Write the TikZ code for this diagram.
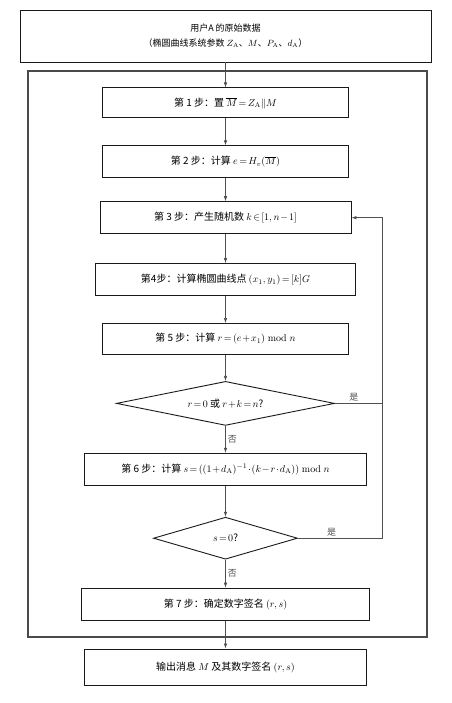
\documentclass[tikz,border=0pt]{standalone}
\usepackage{fontspec}
\usepackage{amsmath}
\usepackage{amssymb}
\newfontfamily\cjk{Noto Sans CJK SC}
\usetikzlibrary{
  arrows.meta,
  shapes.geometric,
  positioning,
  calc
}
\definecolor{sgLine}{HTML}{1A1A1A}
\definecolor{sgFrame}{HTML}{4A4A4A}
\definecolor{sgFlow}{HTML}{505050}
\thickmuskip=2.5mu
\medmuskip=1.5mu
\tikzset{
  sgnode/.style={
    draw=sgLine, line width=0.9pt, font=\cjk\normalsize, align=center, inner sep=2pt
  },
  stepbox/.style={sgnode, rectangle, minimum height=32pt},
  decide/.style={sgnode, diamond, aspect=5, inner sep=0pt},
  frame/.style={draw=sgFrame, line width=1.2pt},
  flow/.style={-{Latex[length=5pt,width=3.5pt]}, line width=0.6pt, sgFlow},
  backline/.style={line width=0.6pt, sgFlow},
  tag/.style={font=\cjk\small, inner sep=2pt}
}

\begin{document}
\begin{tikzpicture}[x=1pt, y=-1pt]
  \useasboundingbox (0,0) rectangle (451,703);
  \draw[frame] (28,71) rectangle (427,637);
  \node[stepbox, minimum width=411pt, minimum height=52pt, font=\cjk\small] (src) at (225.5,36)
    {用户A 的原始数据\\[4pt]（椭圆曲线系统参数 $Z_{\mathrm A}$、$M$、$P_{\mathrm A}$、$d_{\mathrm A}$）};
  \node[stepbox, minimum width=246pt, minimum height=30pt, below=25pt of src] (s1)
    {第 1 步：置 $\overline{M}=Z_{\mathrm A}\|M$};
  \node[stepbox, minimum width=246pt, below=27pt of s1] (s2)
    {第 2 步：计算 $e=H_v(\overline{M})$};
  \node[stepbox, minimum width=251pt, below=23pt of s2] (s3)
    {第 3 步：产生随机数 $k\in[1,n-1]$};
  \node[stepbox, minimum width=260pt, below=29pt of s3] (s4)
    {第4步：计算椭圆曲线点 $(x_1,y_1)=[k]G$};
  \node[stepbox, minimum width=246pt, minimum height=31pt, below=27pt of s4] (s5)
    {第 5 步：计算 $r=(e+x_1)\bmod n$};
  \node[decide, minimum width=218pt, minimum height=44pt, below=26pt of s5] (d1)
    {$r=0$ 或 $r+k=n$?};
  \node[stepbox, minimum width=282pt, below=27pt of d1] (s6)
    {第 6 步：计算 $s=((1+d_{\mathrm A})^{-1}\cdot(k-r\cdot d_{\mathrm A}))\bmod n$};
  \node[decide, minimum width=144pt, minimum height=42pt, below=31pt of s6] (d2)
    {$s=0$?};
  \node[stepbox, minimum width=288pt, below=28pt of d2] (s7)
    {第 7 步：确定数字签名 $(r,s)$};
  \node[stepbox, minimum width=282pt, minimum height=36pt, below=28pt of s7] (out)
    {输出消息 $M$ 及其数字签名 $(r,s)$};
  \coordinate (rt) at (382,0);

  \draw[flow] (src.south) -- (s1.north);
  \draw[flow] (s1.south) -- (s2.north);
  \draw[flow] (s2.south) -- (s3.north);
  \draw[flow] (s3.south) -- (s4.north);
  \draw[flow] (s4.south) -- (s5.north);
  \draw[flow] (s5.south) -- (d1.north);
  \draw[flow] (d1.south) -- node[tag, right] {否} (s6.north);
  \draw[flow] (s6.south) -- (d2.north);
  \draw[flow] (d2.south) -- node[tag, right] {否} (s7.north);
  \draw[flow] (s7.south) -- (out.north);
  % back to step 3
  \draw[backline] (d1.east) -- node[tag, above, pos=0.4] {是} (d1.east -| rt);
  \draw[flow] (d2.east) -- node[tag, above, pos=0.4] {是} (d2.east -| rt) |- (s3.east);
\end{tikzpicture}
\end{document}
